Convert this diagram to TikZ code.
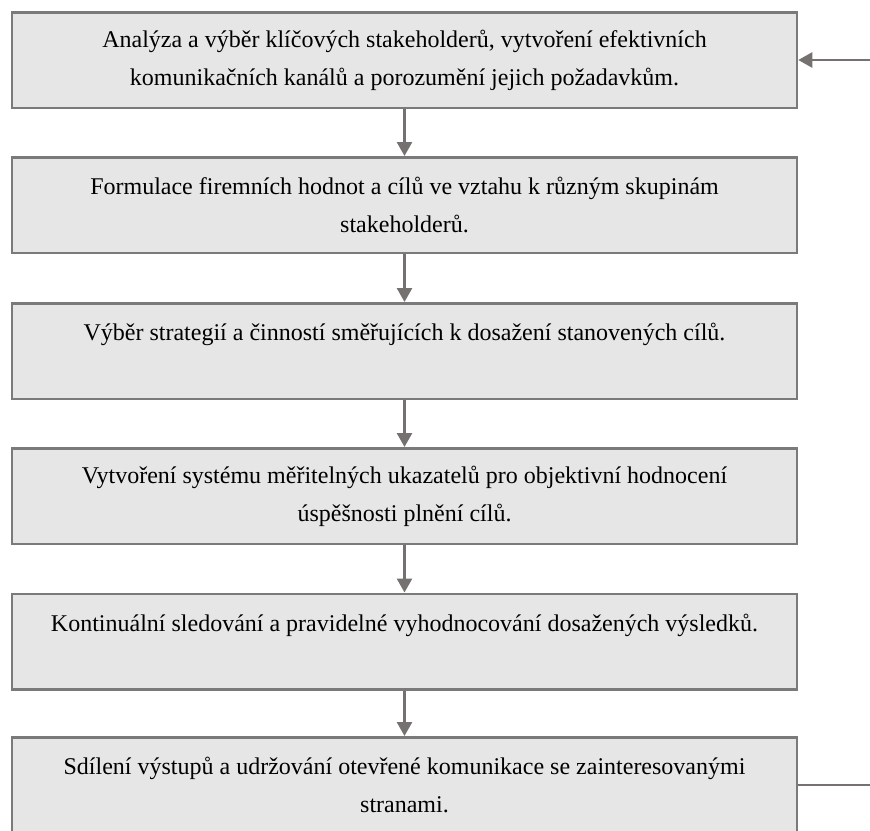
\documentclass[tikz,border=0pt]{standalone}
\usepackage{fontspec}
\setmainfont{Liberation Serif}
\usetikzlibrary{arrows.meta}

\definecolor{linka}{RGB}{118,113,113}
\definecolor{ramecek}{RGB}{122,122,122}
\definecolor{vypln}{RGB}{231,230,230}

\tikzset{
  krok/.style = {draw = ramecek, line width = 2.5pt, fill = vypln,
    minimum width = 785pt, minimum height = 95.5pt, inner sep = 0pt,
    align = center, font = \fontsize{24}{38}\selectfont},
  sipka/.style = {draw = linka, line width = 2.6pt,
    -{Triangle[length = 14pt, width = 15pt]}},
  cara/.style = {draw = linka, line width = 2.6pt}
}

\begin{document}
\begin{tikzpicture}[x = 1pt, y = -1pt]

      \useasboundingbox (0, 0) rectangle (870, 830);

      \node[krok] (analyza) at (404.5, 60) {Analýza a výběr klíčových stakeholderů, vytvoření efektivních\\komunikačních kanálů a porozumění jejich požadavkům.};
      \node[krok] (formulace) at (404.5, 205) {Formulace firemních hodnot a cílů ve vztahu k různým skupinám\\stakeholderů.};
      \node[krok] (vyber) at (404.5, 351) {Výběr strategií a činností směřujících k dosažení stanovených cílů.\\\mbox{}};
      \node[krok] (ukazatele) at (404.5, 496) {Vytvoření systému měřitelných ukazatelů pro objektivní hodnocení\\úspěšnosti plnění cílů.};
      \node[krok] (sledovani) at (404.5, 641.5) {Kontinuální sledování a pravidelné vyhodnocování dosažených výsledků.\\\mbox{}};
      \node[krok] (sdileni) at (404.5, 785) {Sdílení výstupů a udržování otevřené komunikace se zainteresovanými\\stranami.};

      \coordinate (vstup) at (870, 60);
      \coordinate (vystup) at (870, 785);

      \draw[sipka] (analyza) -- (formulace);
      \draw[sipka] (formulace) -- (vyber);
      \draw[sipka] (vyber) -- (ukazatele);
      \draw[sipka] (ukazatele) -- (sledovani);
      \draw[sipka] (sledovani) -- (sdileni);
      \draw[sipka] (vstup) -- (analyza.east);
      \draw[cara] (sdileni.east) -- (vystup);

    \end{tikzpicture}
\end{document}
